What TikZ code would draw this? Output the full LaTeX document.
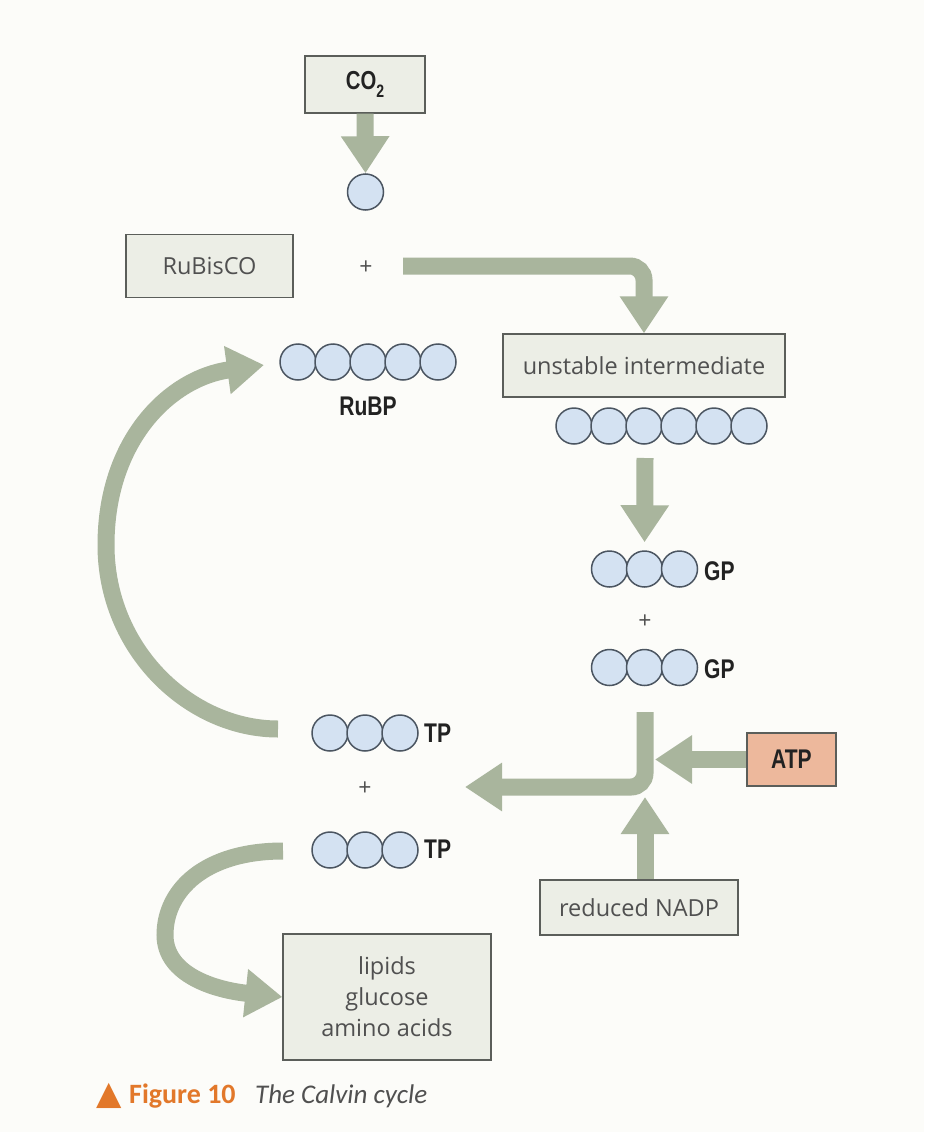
\documentclass[tikz,border=0pt]{standalone}
\usepackage{fontspec}
\setmainfont{Open Sans}
\newfontfamily\labfont[FakeStretch=0.78]{Liberation Sans}
\newfontfamily\capfont{Carlito}
\newfontfamily\symfont{DejaVu Sans}
\usetikzlibrary{arrows.meta}
\definecolor{arrowc}{HTML}{A9B59D}
\definecolor{boxf}{HTML}{ECEEE6}
\definecolor{boxd}{HTML}{5B5E5A}
\definecolor{ballf}{HTML}{D4E2F2}
\definecolor{balld}{HTML}{4B5561}
\definecolor{txtc}{HTML}{505050}
\definecolor{labc}{HTML}{222222}
\definecolor{atpf}{HTML}{EDB89C}
\definecolor{orangec}{HTML}{E2782A}
\definecolor{bgc}{HTML}{FCFCF9}
\tikzset{
  box/.style={draw=boxd, fill=boxf, line width=1.3pt, inner sep=0pt, text=txtc,
    font=\fontsize{23.5}{31}\selectfont, align=center},
  ball/.style={circle, draw=balld, fill=ballf, line width=1.5pt, inner sep=0pt, minimum size=36pt},
  lab/.style={inner sep=0pt, text=labc, font=\labfont\bfseries\fontsize{27}{29}\selectfont},
  plus/.style={inner sep=0pt, text=txtc, font=\fontsize{23}{23}\selectfont},
  fat/.style={draw=arrowc, line width=17pt, -{Triangle[width=46pt,length=37pt]}},
}
\begin{document}
\begin{tikzpicture}[x=1pt,y=-1pt]
\fill[bgc] (0,0) rectangle (924,1132);
\useasboundingbox (0,0) rectangle (924,1132);

% boxes
\node[box, minimum width=120pt, minimum height=57pt] (co2) at (365,84.5)
  {\labfont\bfseries\color{labc}\fontsize{26}{28}\selectfont CO\raisebox{-0.28em}{\fontsize{18}{18}\selectfont 2}};
\node[box, minimum width=167pt, minimum height=63pt] (rubisco) at (209.5,266) {RuBisCO};
\node[box, minimum width=282pt, minimum height=63pt] (unst) at (644,365.5) {unstable intermediate};
\node[box, fill=atpf, minimum width=89pt, minimum height=53pt] (atp) at (791.5,759.5)
  {\labfont\bfseries\color{labc}\fontsize{27}{29}\selectfont ATP};
\node[box, minimum width=198pt, minimum height=55pt] (nadp) at (639,907.5) {reduced NADP};
\node[box, minimum width=208pt, minimum height=126pt] (lipids) at (387,997)
  {lipids\\glucose\\amino acids};

% circles
\node[ball] (c1) at (365.5,192) {};
\node[plus] (plus1) at (366,268) {+};
\foreach \i/\x in {1/298,2/333,3/368,4/403,5/438}
  \node[ball] (rb\i) at (\x,362) {};
\node[lab] (rubp) at (368,406) {RuBP};
\foreach \i/\x in {1/574,2/609,3/644,4/679,5/714,6/749}
  \node[ball] (ui\i) at (\x,426) {};
\foreach \i/\x in {1/609.5,2/644.5,3/679.5}{
  \node[ball] (gpa\i) at (\x,569) {};
  \node[ball] (gpb\i) at (\x,667.5) {};
}
\node[lab, anchor=west] (gpla) at (704,571) {GP};
\node[plus] (plus2) at (645,622) {+};
\node[lab, anchor=west] (gplb) at (704,669) {GP};
\foreach \i/\x in {1/330,2/365,3/400}{
  \node[ball] (tpa\i) at (\x,733) {};
  \node[ball] (tpb\i) at (\x,850) {};
}
\node[lab, anchor=west] (tpla) at (424,733) {TP};
\node[plus] (plus3) at (365,789) {+};
\node[lab, anchor=west] (tplb) at (424,849) {TP};

% helper coordinates
\coordinate (hstart) at (403,266);
\coordinate (gpin) at (645,458);
\coordinate (bendstart) at (645,712);
\coordinate (bendtip) at (465,787);
\coordinate (mixpt) at (655,759.5);
\coordinate (nadptip) at (645,797);
\coordinate (loopstart) at (278,729);
\coordinate (looptip) at (264,365);
\coordinate (outstart) at (283,851);

% arrows
\draw[fat] (co2.south) -- (c1.north);
\draw[fat, rounded corners=14pt] (hstart) -| (unst.north);
\draw[fat, shorten >=8pt] (gpin) -- (gpa2.north);
\draw[fat, rounded corners=14pt] (bendstart) |- (bendtip);
\draw[fat] (atp.west) -- (mixpt);
\draw[fat] (nadptip |- nadp.north) -- (nadptip);
\draw[fat] (loopstart) .. controls (190,729) and (106,650) .. (106,545)
  .. controls (106,440) and (170,378) .. (looptip);
\draw[fat] (outstart) .. controls (205,851) and (165,890) .. (165,935)
  .. controls (165,975) and (215,990) .. (lipids.west);

% caption
\node[inner sep=0pt, anchor=base west, text=orangec] (tri) at (96,1104)
  {\symfont\fontsize{33}{33}\selectfont ▲};
\node[inner sep=0pt, anchor=base west, text=orangec, font=\capfont\bfseries\fontsize{28}{28}\selectfont] (fig) at (129,1103) {Figure 10};
\node[inner sep=0pt, anchor=base west, text=txtc, font=\capfont\itshape\fontsize{27}{27}\selectfont] (title) at (255,1103) {The Calvin cycle};
\end{tikzpicture}
\end{document}
